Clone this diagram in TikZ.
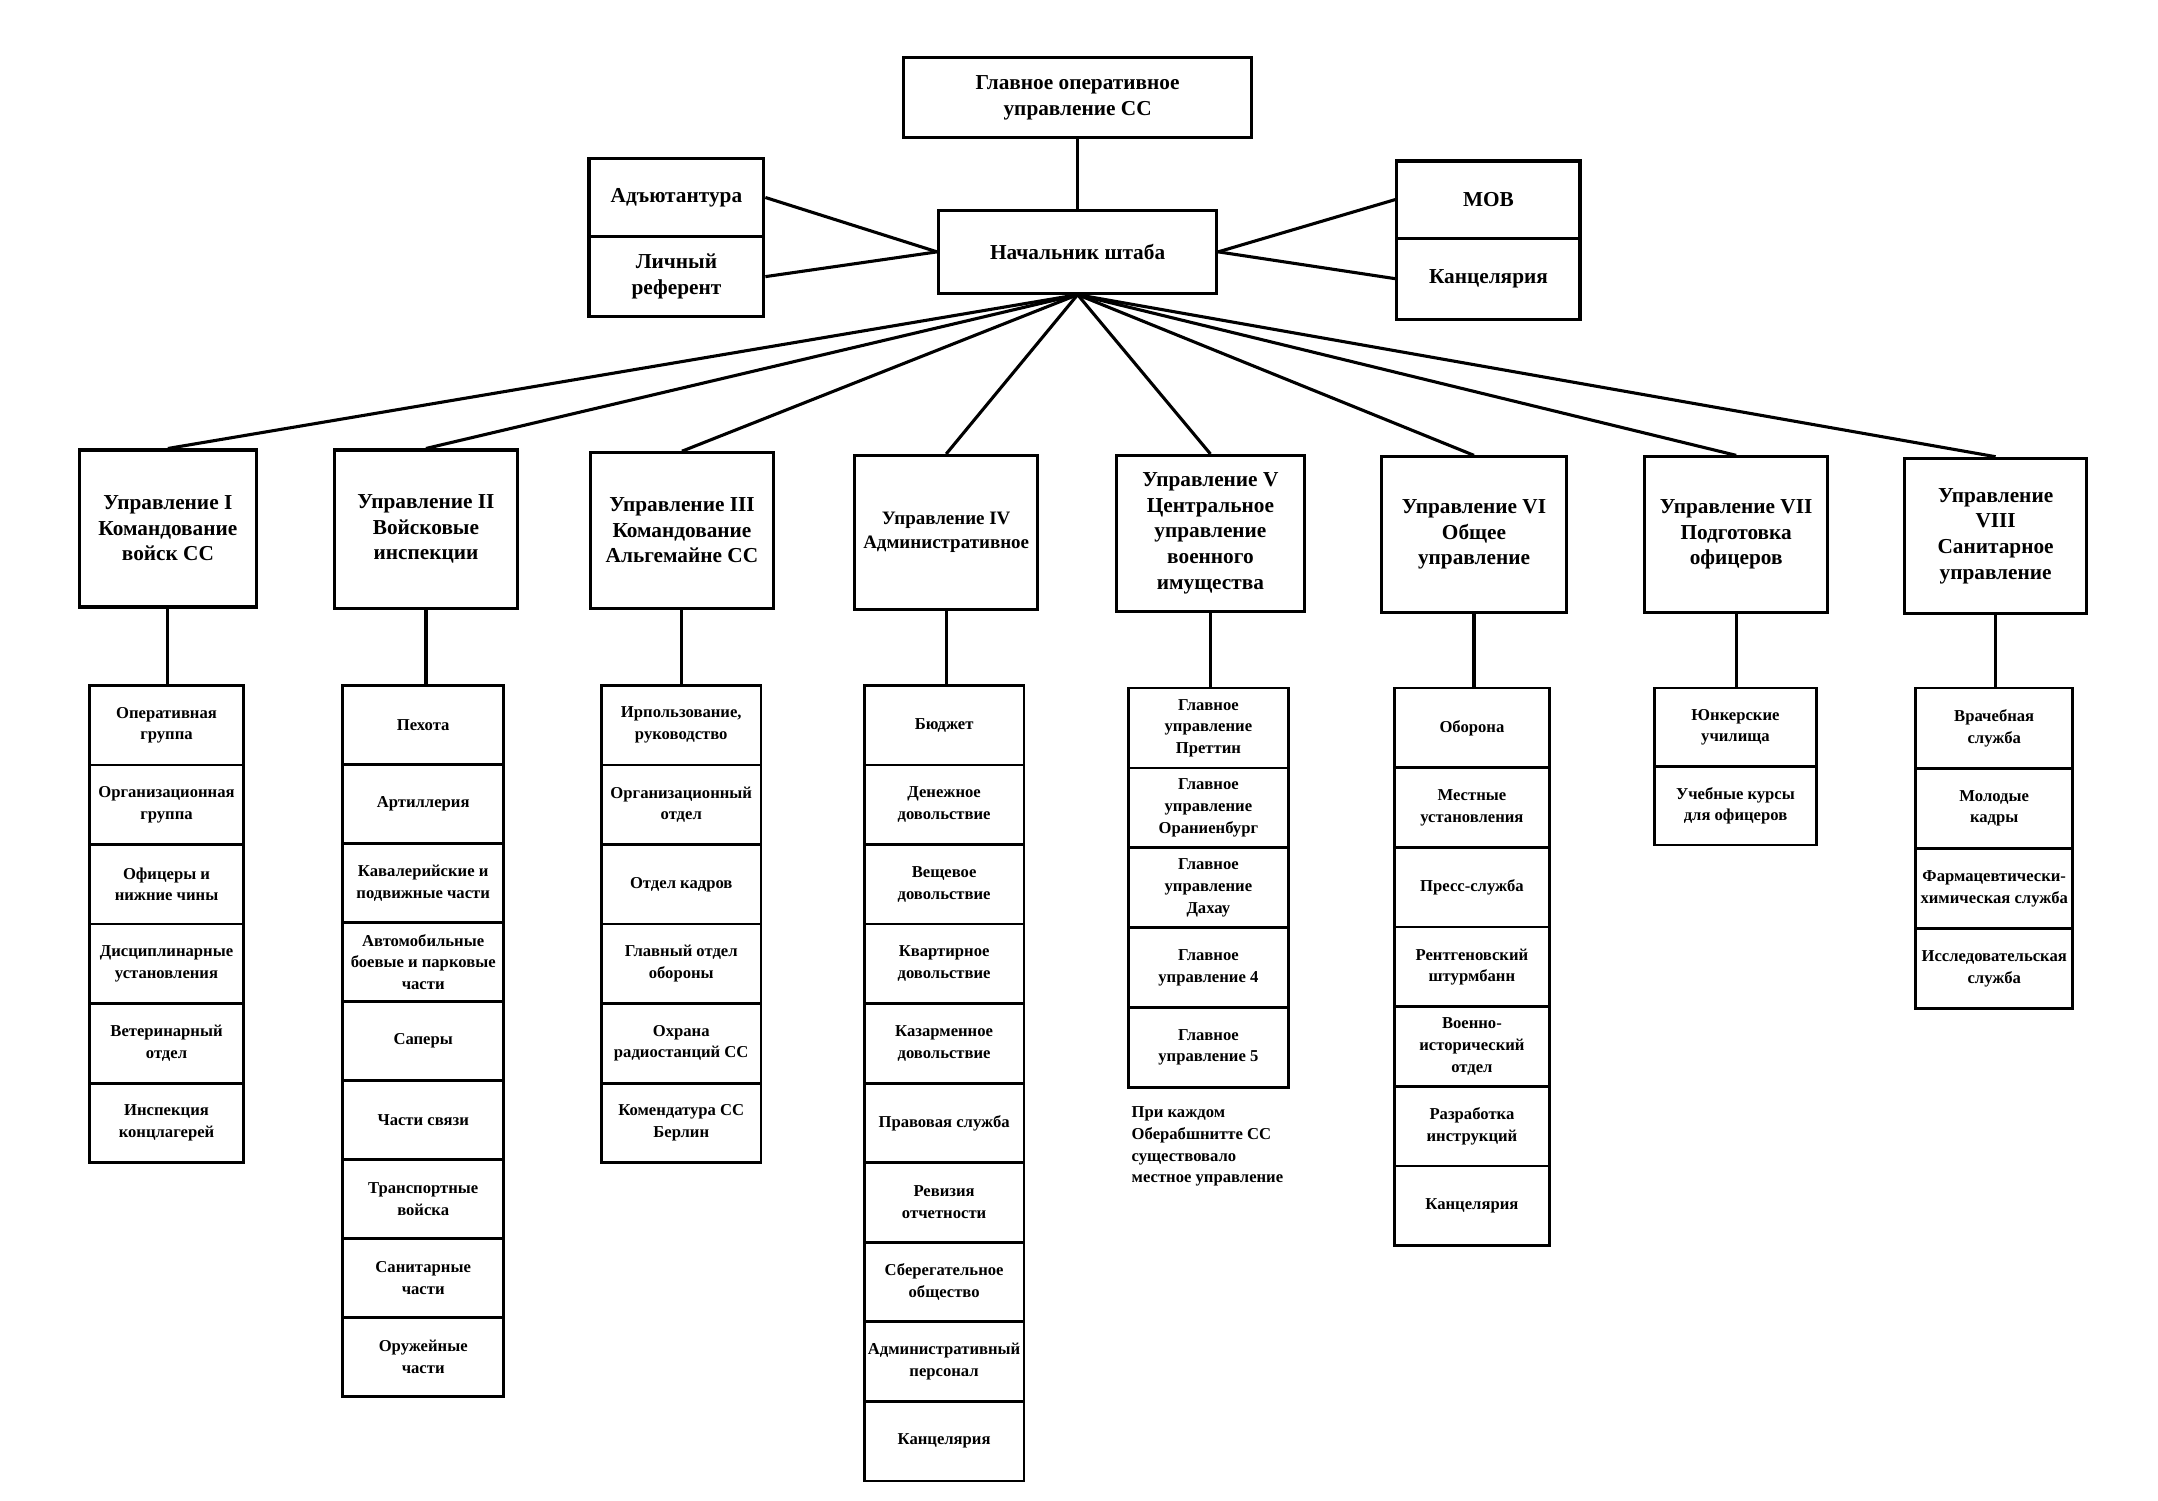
\documentclass[tikz,border=0pt]{standalone}
\usepackage{fontspec}
\setmainfont{Liberation Serif}
\begin{document}
\begin{tikzpicture}[x=0.025cm,y=-0.025cm,
  box/.style={draw,line width=1.6pt,align=center,font=\fontsize{11}{13.2}\selectfont\bfseries,inner sep=1pt},
  cell/.style={draw,line width=1.4pt,align=center,font=\fontsize{8.6}{11.2}\selectfont\bfseries,inner sep=0pt},
  ln/.style={line width=1.6pt}]
\useasboundingbox (0,0) rectangle (1568,1090);
\newcommand\mycol[6]{%
  \foreach \t [count=\i] in {#6}
    \node[cell,minimum width=#4cm,minimum height=#5cm] (#1-\i) at (#2,{#3+(\i-0.5)*#5/0.025}) {\t};}
% top
\node[box,minimum width=6.325cm,minimum height=1.45cm] (top) at (783,71) {Главное оперативное\\управление СС};
\node[box,minimum width=5.05cm,minimum height=1.5cm] (ns) at (783,183) {Начальник штаба};
\node[box,minimum width=3.175cm,minimum height=1.425cm] (adj) at (491.5,143.5) {Адъютантура};
\node[box,minimum width=3.175cm,minimum height=1.45cm] (lr) at (491.5,201) {Личный\\референт};
\node[box,minimum width=3.325cm,minimum height=1.4cm] (mob) at (1081.5,145) {МОВ};
\node[box,minimum width=3.325cm,minimum height=1.475cm] (kan) at (1081.5,202.5) {Канцелярия};
\draw[ln] (top) -- (ns);
\draw[ln] (adj.east) -- (ns.west);
\draw[ln] (lr.east) -- (ns.west);
\draw[ln] (mob.west) -- (ns.east);
\draw[ln] (kan.west) -- (ns.east);
% management boxes
\node[box,minimum width=3.225cm,minimum height=2.85cm] (m1) at (122,384) {Управление I\\Командование\\войск СС};
\node[box,minimum width=3.325cm,minimum height=2.875cm] (m2) at (309.5,384.5) {Управление II\\Войсковые\\инспекции};
\node[box,minimum width=3.325cm,minimum height=2.825cm] (m3) at (495.5,385.5) {Управление III\\Командование\\Альгемайне СС};
\node[box,minimum width=3.325cm,minimum height=2.8cm,font=\fontsize{9.8}{12.5}\selectfont\bfseries] (m4) at (687.5,387) {Управление IV\\Административное};
\node[box,minimum width=3.425cm,minimum height=2.825cm] (m5) at (879.5,387.5) {Управление V\\Центральное\\управление\\военного\\имущества};
\node[box,minimum width=3.35cm,minimum height=2.825cm] (m6) at (1071,388.5) {Управление VI\\Общее\\управление};
\node[box,minimum width=3.325cm,minimum height=2.825cm] (m7) at (1261.5,388.5) {Управление VII\\Подготовка\\офицеров};
\node[box,minimum width=3.3cm,minimum height=2.825cm] (m8) at (1450,389.5) {Управление\\VIII\\Санитарное\\управление};
\coordinate (hub) at (ns.south);
\foreach \k in {1,...,8} \draw[ln] (hub) -- (m\k.north);
% columns
\mycol{c1}{121}{498}{2.8}{1.445}{Оперативная\\группа,Организационная\\группа,Офицеры и\\нижние чины,Дисциплинарные\\установления,Ветеринарный\\отдел,Инспекция\\концлагерей}
\mycol{c2}{307.5}{498}{2.925}{1.435}{Пехота,Артиллерия,Кавалерийские и\\подвижные части,Автомобильные\\боевые и парковые\\части,Саперы,Части связи,Транспортные\\войска,Санитарные\\части,Оружейные\\части}
\mycol{c3}{495}{498}{2.9}{1.445}{{Ирпользование,\\руководство},Организационный\\отдел,Отдел кадров,Главный отдел\\обороны,Охрана\\радиостанций СС,Комендатура СС\\Берлин}
\mycol{c4}{686}{498}{2.9}{1.445}{Бюджет,Денежное\\довольствие,Вещевое\\довольствие,Квартирное\\довольствие,Казарменное\\довольствие,Правовая служба,Ревизия\\отчетности,Сберегательное\\общество,Административный\\персонал,Канцелярия}
\mycol{c5}{878}{500}{2.9}{1.45}{Главное\\управление\\Преттин,Главное\\управление\\Ораниенбург,Главное\\управление\\Дахау,Главное\\управление 4,Главное\\управление 5}
\mycol{c6}{1069.5}{500}{2.825}{1.447}{Оборона,Местные\\установления,Пресс-служба,Рентгеновский\\штурмбанн,Военно-\\исторический\\отдел,Разработка\\инструкций,Канцелярия}
\mycol{c7}{1261}{500}{2.95}{1.425}{Юнкерские\\училища,Учебные курсы\\для офицеров}
\mycol{c8}{1449}{500}{2.85}{1.456}{Врачебная\\служба,Молодые\\кадры,Фармацевтически-\\химическая служба,Исследовательская\\служба}
\foreach \k in {1,...,8} \draw[ln] (m\k.south) -- (m\k.south |- c\k-1.north);
\node[anchor=north west,align=left,inner sep=0pt,font=\fontsize{8.6}{11.2}\selectfont\bfseries] (note) at (822,804) {При каждом\\Оберабшнитте СС\\существовало\\местное управление};
\end{tikzpicture}
\end{document}
